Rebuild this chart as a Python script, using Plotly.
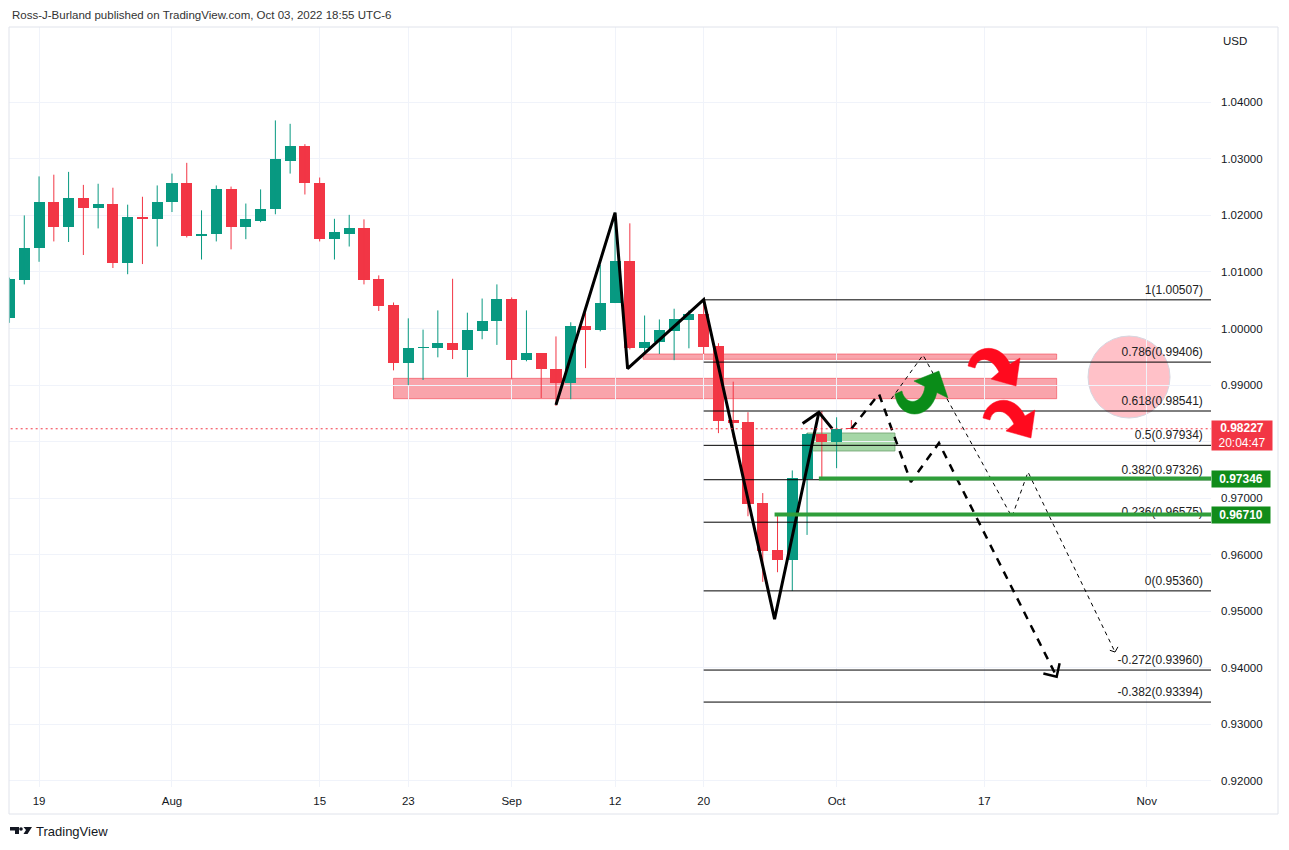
import pandas as pd
import plotly.graph_objects as go

# ---------------- data ----------------
dates = pd.bdate_range("2022-07-15", "2022-10-04")
opens = [1.0018, 1.0085, 1.0142, 1.0224, 1.0179, 1.0230, 1.0213, 1.0221, 1.0115, 1.0198,
         1.0193, 1.0223, 1.0258, 1.0163, 1.0167, 1.0246, 1.0179, 1.0191, 1.0211, 1.0297,
         1.0323, 1.0258, 1.0158, 1.0168, 1.0177, 1.0087, 1.0041, 0.9939, 0.9966, 0.9965,
         0.9974, 0.9962, 0.9995, 1.0013, 1.0053, 0.9944, 0.9956, 0.9929, 0.9903, 1.0005,
         0.9997, 1.0045, 1.0120, 0.9965, 0.9976, 0.9995, 1.0015, 1.0025, 0.9969, 0.9838,
         0.9834, 0.9691, 0.9608, 0.9591, 0.9734, 0.9813, 0.9799, 0.98240]
highs = [1.0090, 1.0200, 1.0269, 1.0272, 1.0277, 1.0254, 1.0256, 1.0249, 1.0219, 1.0233,
         1.0253, 1.0274, 1.0293, 1.0209, 1.0253, 1.0251, 1.0221, 1.0246, 1.0368, 1.0362,
         1.0326, 1.0267, 1.0194, 1.0201, 1.0193, 1.0094, 1.0046, 1.0018, 0.9998, 1.0032,
         1.0088, 1.0028, 1.0053, 1.0078, 1.0055, 1.0032, 0.9956, 0.9986, 1.0011, 1.0028,
         1.0113, 1.0205, 1.0186, 1.0023, 1.0016, 1.0035, 1.0032, 1.0051, 0.9974, 0.9906,
         0.9852, 0.9709, 0.9670, 0.9749, 0.9815, 0.9854, 0.9843, 0.9838]
lows = [1.0010, 1.0078, 1.0118, 1.0154, 1.0153, 1.0130, 1.0177, 1.0107, 1.0096, 1.0114,
        1.0145, 1.0206, 1.0161, 1.0122, 1.0154, 1.0140, 1.0158, 1.0188, 1.0202, 1.0274,
        1.0237, 1.0154, 1.0122, 1.0145, 1.0078, 1.0031, 0.9926, 0.9900, 0.9909, 0.9949,
        0.9946, 0.9914, 0.9981, 0.9971, 0.9910, 0.9942, 0.9877, 0.9863, 0.9875, 0.9930,
        0.9995, 1.0045, 0.9963, 0.9955, 0.9955, 0.9944, 0.9965, 0.9955, 0.9815, 0.9807,
        0.9668, 0.9552, 0.9569, 0.9536, 0.9635, 0.9735, 0.9753, 0.9822]
closes = [1.0087, 1.0143, 1.0224, 1.0179, 1.0230, 1.0213, 1.0221, 1.0115, 1.0198, 1.0193,
          1.0224, 1.0258, 1.0163, 1.0168, 1.0246, 1.0179, 1.0193, 1.0212, 1.0299, 1.0323,
          1.0257, 1.0158, 1.0170, 1.0177, 1.0085, 1.0039, 0.9939, 0.9966, 0.9967, 0.9974,
          0.9962, 0.9997, 1.0014, 1.0053, 0.9944, 0.9956, 0.9928, 0.9903, 1.0005, 0.9997,
          1.0046, 1.0120, 0.9965, 0.9977, 0.9997, 1.0016, 1.0025, 0.9967, 0.9836, 0.9833,
          0.9690, 0.9607, 0.9591, 0.9735, 0.9813, 0.9799, 0.9823, 0.98227]

last_price = 0.98227
countdown = "20:04:47"

tick_dates = ["2022-07-19", "2022-08-01", "2022-08-15", "2022-08-23", "2022-09-01",
              "2022-09-12", "2022-09-20", "2022-10-03", "2022-10-17", "2022-11-01"]
tick_labels = ["19", "Aug", "15", "23", "Sep", "12", "20", "Oct", "17", "Nov"]
price_ticks = [0.92, 0.93, 0.94, 0.95, 0.96, 0.97, 0.98, 0.99, 1.00, 1.01, 1.02, 1.03, 1.04]

fib_levels = [1.00507, 0.99406, 0.98541, 0.97934, 0.97326, 0.96575, 0.95360, 0.93960, 0.93394]
fib_labels = ["1(1.00507)", "0.786(0.99406)", "0.618(0.98541)", "0.5(0.97934)",
              "0.382(0.97326)", "0.236(0.96575)", "0(0.95360)", "-0.272(0.93960)",
              "-0.382(0.93394)"]
fib_start_bar = 47

# drawings (bar index, price)
pattern_bar = [37, 41, 41.85, 47, 51.8, 54.8]
pattern_price = [0.9865, 1.0205, 0.9929, 1.0051, 0.9486, 0.9852]
pattern_head_bar = [53.7, 54.8, 55.7]
pattern_head_price = [0.9832, 0.9852, 0.9823]

bold_path_bar = [57, 58.87, 61.03, 62.93, 70.9]
bold_path_price = [0.98227, 0.98842, 0.97286, 0.97975, 0.93843]
bold_head_bar = [70.0, 70.9, 71.1]
bold_head_price = [0.9390, 0.93843, 0.9408]

thin_path_bar = [59.7, 61.85, 67.87, 68.96, 74.85]
thin_path_price = [0.98753, 0.99531, 0.96667, 0.97462, 0.94279]
thin_head_bar = [74.5, 74.85, 75.05]
thin_head_price = [0.9431, 0.94279, 0.9437]

support_levels = [0.97346, 0.96710]
support_start_bar = [54.8, 51.8]

zone_big = dict(b0=26, b1=70.9, p0=0.98759, p1=0.99119)
zone_thin = dict(b0=42.9, b1=70.9, p0=0.99455, p1=0.99549)
zone_green = dict(b0=54, b1=59.95, p0=0.97834, p1=0.98152)
circle_center = (75.8, 0.99142)

# ---------------- helpers ----------------
axis_dates = pd.bdate_range("2022-07-15", "2022-12-30")
pos = {d: i for i, d in enumerate(axis_dates)}
xs = [pos[d] for d in dates]
tick_vals = [pos[pd.Timestamp(d)] for d in tick_dates]

W, H = 1289, 850
PL, PR, PT, PB = 9, 1211, 27, 787
Y0, Y1 = 0.91892, 1.05332
PX_PER_PRICE = (PB - PT) / (Y1 - Y0)


def paper_x(px):
    return (px - PL) / (PR - PL)


def paper_y(py):
    return (PB - py) / (PB - PT)


GREEN = "#089981"
RED = "#F23645"
TXT = "#131722"
FONT = "Liberation Sans"

fig = go.Figure()

# candles: wicks + bodies
up = [c >= o for o, c in zip(opens, closes)]
for flag, col in [(True, GREEN), (False, RED)]:
    wx, wy = [], []
    for x, h, l, u in zip(xs, highs, lows, up):
        if u == flag:
            wx += [x, x, None]
            wy += [l, h, None]
    fig.add_trace(go.Scatter(x=wx, y=wy, mode="lines", line=dict(color=col, width=1),
                             hoverinfo="skip", showlegend=False))
fig.add_trace(go.Bar(
    x=xs, y=[abs(c - o) for o, c in zip(opens, closes)],
    base=[min(o, c) for o, c in zip(opens, closes)], width=0.75,
    marker=dict(color=[GREEN if u else RED for u in up], line=dict(width=0)),
    hoverinfo="skip", showlegend=False))

fig.add_trace(go.Scatter(x=pattern_bar, y=pattern_price, mode="lines",
                         line=dict(color="black", width=3), hoverinfo="skip", showlegend=False))
fig.add_trace(go.Scatter(x=pattern_head_bar, y=pattern_head_price, mode="lines",
                         line=dict(color="black", width=3), hoverinfo="skip", showlegend=False))
fig.add_trace(go.Scatter(x=bold_path_bar, y=bold_path_price, mode="lines",
                         line=dict(color="black", width=2.5, dash="8px,7px"),
                         hoverinfo="skip", showlegend=False))
fig.add_trace(go.Scatter(x=bold_head_bar, y=bold_head_price, mode="lines",
                         line=dict(color="black", width=2.5), hoverinfo="skip", showlegend=False))
fig.add_trace(go.Scatter(x=thin_path_bar, y=thin_path_price, mode="lines",
                         line=dict(color="black", width=1, dash="4px,4px"),
                         hoverinfo="skip", showlegend=False))
fig.add_trace(go.Scatter(x=thin_head_bar, y=thin_head_price, mode="lines",
                         line=dict(color="black", width=1), hoverinfo="skip", showlegend=False))

# fib labels as text trace (so the support lines can sit above them)
lift = 3 / PX_PER_PRICE
fig.add_trace(go.Scatter(x=[80.8] * len(fib_levels), y=[v + lift for v in fib_levels],
                         mode="text", text=fib_labels, textposition="top left",
                         textfont=dict(family=FONT, size=12, color="#222"),
                         hoverinfo="skip", showlegend=False))

shapes = []
for z, fill, ln in [(zone_big, "rgba(242,54,69,0.45)", "rgba(242,54,69,0.55)"),
                    (zone_thin, "rgba(242,54,69,0.45)", "rgba(242,54,69,0.55)"),
                    (zone_green, "rgba(76,175,80,0.5)", "rgba(110,160,110,0.8)")]:
    shapes.append(dict(type="rect", xref="x", yref="y", x0=z["b0"], x1=z["b1"],
                       y0=z["p0"], y1=z["p1"], fillcolor=fill, line=dict(color=ln, width=1),
                       layer="below"))
shapes.append(dict(type="circle", xref="x", yref="y", xsizemode="pixel", ysizemode="pixel",
                   xanchor=circle_center[0], yanchor=circle_center[1],
                   x0=-41, x1=41, y0=-41, y1=41, fillcolor="#FFC1C8",
                   line=dict(color="#D6D6E0", width=1), layer="below"))
for lv in fib_levels:
    shapes.append(dict(type="line", xref="x", yref="y", x0=fib_start_bar, x1=90, y0=lv, y1=lv,
                       line=dict(color="black", width=1), layer="above"))
shapes.append(dict(type="line", xref="x", yref="y", x0=-5, x1=90, y0=last_price, y1=last_price,
                   line=dict(color=RED, width=1, dash="2px,3px"), layer="above"))
for lv, b0 in zip(support_levels, support_start_bar):
    shapes.append(dict(type="line", xref="x", yref="y", x0=b0, x1=90, y0=lv, y1=lv,
                       line=dict(color="#2F9E3A", width=4), layer="above"))


def icon_path(cmds):
    out = []
    for c, pts in cmds:
        s = c
        for (a, b) in pts:
            s += " %.1f %.1f" % (a, -b)
        out.append(s)
    return " ".join(out) + " Z"


red_arrow = [("M", [(0, 21)]), ("C", [(3, 2), (30, -6), (42, 19)]), ("L", [(52, 13)]),
             ("L", [(48, 41)]), ("L", [(23, 34)]), ("L", [(31, 27)]),
             ("C", [(24, 12), (10, 10), (7, 23)])]
green_arrow = [("M", [(0, 22)]), ("C", [(3, 48), (35, 50), (42, 20.5)]), ("L", [(53, 26)]),
               ("L", [(44, -1)]), ("L", [(19, 9)]), ("L", [(30, 14.5)]),
               ("C", [(28, 33), (10, 34), (7, 19)])]

for anc, path, col in [((64.9, 0.99708), red_arrow, "#FF0A1E"),
                       ((65.91, 0.98789), red_arrow, "#FF0A1E"),
                       ((59.95, 0.99231), green_arrow, "#0A8C18")]:
    shapes.append(dict(type="path", xref="x", yref="y", xsizemode="pixel", ysizemode="pixel",
                       xanchor=anc[0], yanchor=anc[1], path=icon_path(path),
                       fillcolor=col, line=dict(color=col, width=0.5), layer="above"))

shapes.append(dict(type="rect", xref="paper", yref="paper", x0=paper_x(9), x1=paper_x(1278),
                   y0=paper_y(814), y1=paper_y(27), line=dict(color="#E0E3EB", width=1),
                   fillcolor="rgba(0,0,0,0)", layer="above"))

logo = [("M", [(0, 0)]), ("L", [(9, 0)]), ("L", [(9, 7)]), ("L", [(5, 7)]), ("L", [(5, 3.5)]),
        ("L", [(0, 3.5)])]
shapes.append(dict(type="path", xref="paper", yref="paper", xsizemode="pixel", ysizemode="pixel",
                   xanchor=paper_x(10), yanchor=paper_y(827), path=icon_path(logo),
                   fillcolor="#131722", line=dict(width=0)))
logo_v = [("M", [(13.5, 0)]), ("L", [(22, 0)]), ("L", [(17.5, 7)]), ("L", [(13.5, 7)]),
          ("L", [(16, 3)])]
shapes.append(dict(type="path", xref="paper", yref="paper", xsizemode="pixel", ysizemode="pixel",
                   xanchor=paper_x(10), yanchor=paper_y(827), path=icon_path(logo_v),
                   fillcolor="#131722", line=dict(width=0)))
shapes.append(dict(type="circle", xref="paper", yref="paper", xsizemode="pixel", ysizemode="pixel",
                   xanchor=paper_x(21), yanchor=paper_y(829), x0=-1.8, x1=1.8, y0=-1.8, y1=1.8,
                   fillcolor="#131722", line=dict(width=0)))

annotations = [
    dict(xref="paper", yref="paper", x=paper_x(10), y=paper_y(15), xanchor="left",
         yanchor="middle", showarrow=False,
         text="Ross-J-Burland published on TradingView.com, Oct 03, 2022 18:55 UTC-6",
         font=dict(family=FONT, size=11.5, color="#333")),
    dict(xref="paper", yref="paper", x=paper_x(1221), y=paper_y(41), xanchor="left",
         yanchor="middle", showarrow=False, text="USD",
         font=dict(family=FONT, size=11.5, color=TXT)),
    dict(xref="paper", yref="paper", x=paper_x(34), y=paper_y(831), xanchor="left",
         yanchor="middle", showarrow=False, text="TradingView",
         font=dict(family=FONT, size=13, color=TXT)),
    dict(xref="paper", yref="y", x=1.0, y=last_price, xanchor="left", yanchor="top",
         yshift=9, showarrow=False, bgcolor=RED, width=58, height=27, borderpad=1,
         text="<b>%.5f</b><br>%s" % (last_price, countdown), align="center",
         font=dict(family=FONT, size=12, color="white")),
]
for lv in support_levels:
    annotations.append(dict(xref="paper", yref="y", x=1.0, y=lv, xanchor="left",
                            yanchor="middle", showarrow=False, bgcolor="#118C1A",
                            width=56, height=14, borderpad=1, text="<b>%.5f</b>" % lv,
                            font=dict(family=FONT, size=12, color="white")))

price_text = ["" if abs(v - 0.98) < 1e-9 else "%.5f" % v for v in price_ticks]

fig.update_layout(
    width=W, height=H, margin=dict(l=PL, r=W - PR, t=PT, b=H - PB),
    paper_bgcolor="white", plot_bgcolor="white", bargap=0,
    shapes=shapes, annotations=annotations, showlegend=False,
    xaxis=dict(range=[-0.035, 81.35], tickvals=tick_vals, ticktext=tick_labels,
               showgrid=True, gridcolor="#F0F3FA", gridwidth=1, zeroline=False,
               showline=False, ticks="", tickfont=dict(family=FONT, size=11.5, color=TXT),
               ticklabelstandoff=5),
    yaxis=dict(side="right", range=[Y0, Y1], tickvals=price_ticks,
               ticktext=price_text, showgrid=True, gridcolor="#F0F3FA", gridwidth=1,
               zeroline=False, showline=False, ticks="",
               tickfont=dict(family=FONT, size=11.5, color=TXT), ticklabelstandoff=9),
)

fig.write_html("out.html")
